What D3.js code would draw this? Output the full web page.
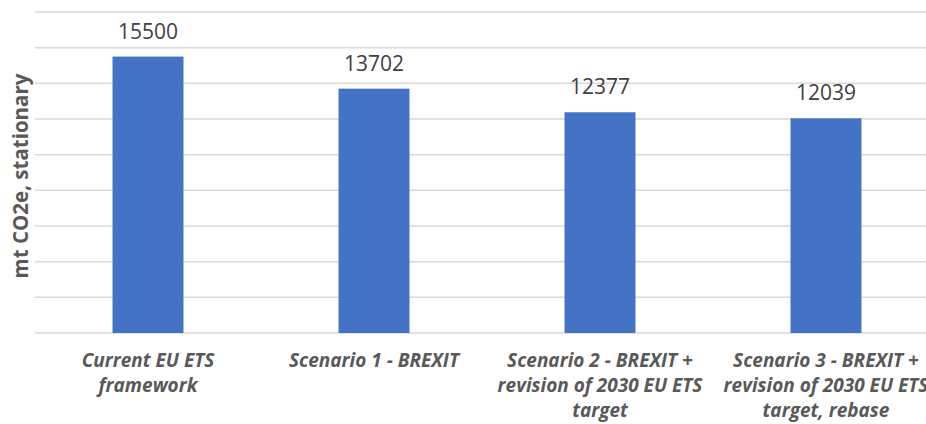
<!DOCTYPE html>
<html lang="en">
<head>
  <meta charset="utf-8"/>
  <title>EU ETS scenarios</title>
  <style>
    body { margin: 0; background: #fff; }
    svg text { font-family: "Open Sans", "Liberation Sans", sans-serif; }
  </style>
</head>
<body>
<svg id="chart" width="926" height="424"></svg>

<script src="https://cdn.jsdelivr.net/npm/d3@7/dist/d3.min.js"></script>
<script>

  // chart data
  let categories = [
    ['Current EU ETS', 'framework'],
    ['Scenario 1 - BREXIT'],
    ['Scenario 2 - BREXIT +', 'revision of 2030 EU ETS', 'target'],
    ['Scenario 3 - BREXIT +', 'revision of 2030 EU ETS', 'target, rebase']
  ];
  let values = [15500, 13702, 12377, 12039];
  let gridTicks = d3.range(0, 18001, 2000);
  let yTitle = 'mt CO2e, stationary';

  let svg = d3.select('#chart');
  let plotLeft = 35, plotRight = 939, plotTop = 12, plotBottom = 333;

  let x = d3.scaleBand()
    .domain(d3.range(values.length))
    .range([plotLeft, plotRight])
    .paddingInner(0.686)
    .paddingOuter(0.343);

  let y = d3.scaleLinear()
    .domain([0, 18000])
    .range([plotBottom, plotTop]);

  // gridlines
  svg.append('g')
    .selectAll('line')
    .data(gridTicks)
    .join('line')
    .attr('x1', plotLeft)
    .attr('x2', 926)
    .attr('y1', d => y(d))
    .attr('y2', d => y(d))
    .attr('stroke', '#d9d9d9')
    .attr('stroke-width', 1.5);

  // bars
  svg.append('g')
    .selectAll('rect')
    .data(values)
    .join('rect')
    .attr('x', (d, i) => x(i))
    .attr('width', x.bandwidth())
    .attr('y', d => y(d))
    .attr('height', d => plotBottom - y(d))
    .attr('fill', '#4472c4');

  // value labels
  svg.append('g')
    .selectAll('text')
    .data(values)
    .join('text')
    .attr('x', (d, i) => x(i) + x.bandwidth() / 2)
    .attr('y', d => y(d) - 18)
    .attr('text-anchor', 'middle')
    .attr('font-size', 21)
    .attr('fill', '#404040')
    .text(d => d);

  // category labels
  svg.append('g')
    .selectAll('text')
    .data(categories)
    .join('text')
    .attr('text-anchor', 'middle')
    .attr('font-size', 19)
    .attr('font-weight', 'bold')
    .attr('font-style', 'italic')
    .attr('fill', '#595959')
    .each(function (lines, i) {
      d3.select(this)
        .selectAll('tspan')
        .data(lines)
        .join('tspan')
        .attr('x', x(i) + x.bandwidth() / 2)
        .attr('y', (l, j) => 367 + j * 25)
        .text(l => l);
    });

  // y axis title
  svg.append('text')
    .attr('transform', `translate(28, 176) rotate(-90)`)
    .attr('text-anchor', 'middle')
    .attr('font-size', 20.5)
    .attr('font-weight', 'bold')
    .attr('fill', '#595959')
    .text(yTitle);

</script>
</body>
</html>
